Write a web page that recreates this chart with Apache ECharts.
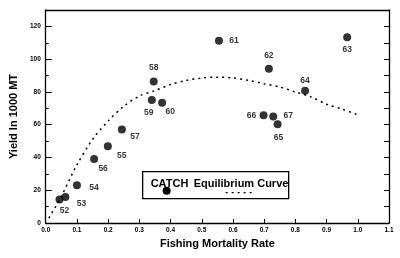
<!DOCTYPE html>
<html>
<head>
<meta charset="utf-8">
<script src="https://cdn.jsdelivr.net/npm/echarts@6/dist/echarts.min.js"></script>
<style>
  html, body { margin: 0; padding: 0; background: #fff; }
  #chart { width: 400px; height: 258px; }
</style>
</head>
<body>
<div id="chart"></div>
<script>
// catch by year (fishing mortality vs yield)
const years = ["52", "53", "54", "55", "56", "57", "58", "59", "60", "61", "62", "63", "64", "65", "66", "67"];
const catchF = [0.044, 0.063, 0.100, 0.199, 0.155, 0.244, 0.346, 0.340, 0.373, 0.555, 0.715, 0.966, 0.831, 0.743, 0.698, 0.729];
const catchYield = [14.3, 15.9, 23, 46.8, 39, 57, 86.4, 75, 73.4, 111.2, 94.1, 113.4, 80.7, 60.2, 65.7, 65];

// equilibrium curve
const curveF = [0.01, 0.05, 0.1, 0.15, 0.2, 0.25, 0.3, 0.35, 0.4, 0.45, 0.5, 0.55, 0.6, 0.65, 0.7, 0.75, 0.8, 0.85, 0.9, 0.95, 1.0];
const curveYield = [3, 16.3, 35.5, 51, 62.3, 71.2, 77.5, 80.8, 84.5, 87, 88.5, 89, 88.5, 87, 85, 83, 80, 77, 72.5, 69.5, 66];

// where each year label sits relative to its dot (px)
const labelOffsets = [[5, 11], [16, 7], [17, 2], [14, 9], [9, 10], [13, 7], [0, -14], [-3, 13], [8, 9], [15, 0], [0, -13], [0, 12], [0, -10], [1, 13], [-12, 0], [15, -1]];

const font = "Liberation Sans";
const ink = "#000";

const chart = echarts.init(document.getElementById("chart"));

chart.setOption({
  animation: false,
  textStyle: { fontFamily: font },
  grid: { left: 39, right: 11, top: 10, bottom: 35 },
  xAxis: [
    {
      type: "value",
      min: 0,
      max: 1.1,
      interval: 0.1,
      name: "Fishing Mortality Rate",
      nameLocation: "middle",
      nameGap: 14,
      nameTextStyle: { fontSize: 11, fontWeight: "bold", color: ink },
      axisLine: { onZero: false, lineStyle: { color: ink, width: 1.3 } },
      axisTick: { inside: true, length: 4, lineStyle: { color: ink } },
      axisLabel: {
        fontSize: 6.5,
        fontWeight: "bold",
        color: ink,
        margin: 4,
        formatter: (v) => v.toFixed(1),
      },
      splitLine: { show: false },
    },
    {
      type: "value",
      position: "top",
      min: 0,
      max: 1.1,
      axisLine: { show: true, onZero: false, lineStyle: { color: ink, width: 1.3 } },
      axisTick: { show: false },
      axisLabel: { show: false },
      splitLine: { show: false },
    },
  ],
  yAxis: [
    {
      type: "value",
      min: 0,
      max: 130,
      interval: 20,
      name: "Yield In 1000 MT",
      nameLocation: "middle",
      nameGap: 25,
      nameTextStyle: { fontSize: 11, fontWeight: "bold", color: ink },
      axisLine: { show: true, onZero: false, lineStyle: { color: ink, width: 1.3 } },
      axisTick: { inside: true, length: 6, lineStyle: { color: ink } },
      minorTick: { show: true, splitNumber: 2, length: 3, lineStyle: { color: ink } },
      axisLabel: {
        fontSize: 6.5,
        fontWeight: "bold",
        color: ink,
        margin: 5,
        formatter: (v) => (v % 20 === 0 ? String(v) : ""),
      },
      splitLine: { show: false },
    },
    {
      type: "value",
      position: "right",
      min: 0,
      max: 130,
      interval: 10,
      axisLine: { show: true, onZero: false, lineStyle: { color: ink, width: 1.3 } },
      axisTick: { inside: true, length: 5, lineStyle: { color: ink } },
      axisLabel: { show: false },
      splitLine: { show: false },
    },
  ],
  series: [
    {
      name: "Equilibrium Curve",
      type: "line",
      data: curveF.map((f, i) => [f, curveYield[i]]),
      smooth: 0.3,
      showSymbol: false,
      silent: true,
      lineStyle: { color: ink, width: 1.5, type: [2, 4] },
    },
    {
      name: "CATCH",
      type: "scatter",
      symbolSize: 8,
      itemStyle: { color: ink },
      data: catchF.map((f, i) => ({
        value: [f, catchYield[i]],
        name: years[i],
        label: { offset: labelOffsets[i] },
      })),
      label: {
        show: true,
        position: "inside",
        formatter: (p) => p.name,
        fontSize: 8.5,
        fontWeight: "bold",
        color: ink,
      },
    },
  ],
  graphic: [
    {
      type: "group",
      left: 142,
      top: 171,
      children: [
        {
          type: "rect",
          shape: { x: 0, y: 0, width: 146, height: 27 },
          style: { fill: "#fff", stroke: ink, lineWidth: 1.3 },
        },
        {
          type: "text",
          x: 8,
          y: 12,
          style: { text: "CATCH", font: "bold 11px " + font, fill: ink, textVerticalAlign: "middle" },
        },
        {
          type: "circle",
          shape: { cx: 24, cy: 19, r: 4 },
          style: { fill: ink },
        },
        {
          type: "text",
          x: 51,
          y: 12,
          style: { text: "Equilibrium Curve", font: "bold 11px " + font, fill: ink, textVerticalAlign: "middle" },
        },
        {
          type: "line",
          shape: { x1: 83, y1: 21, x2: 112, y2: 21 },
          style: { stroke: ink, lineWidth: 1.3, lineDash: [2, 4] },
        },
      ],
    },
  ],
});
</script>
</body>
</html>
